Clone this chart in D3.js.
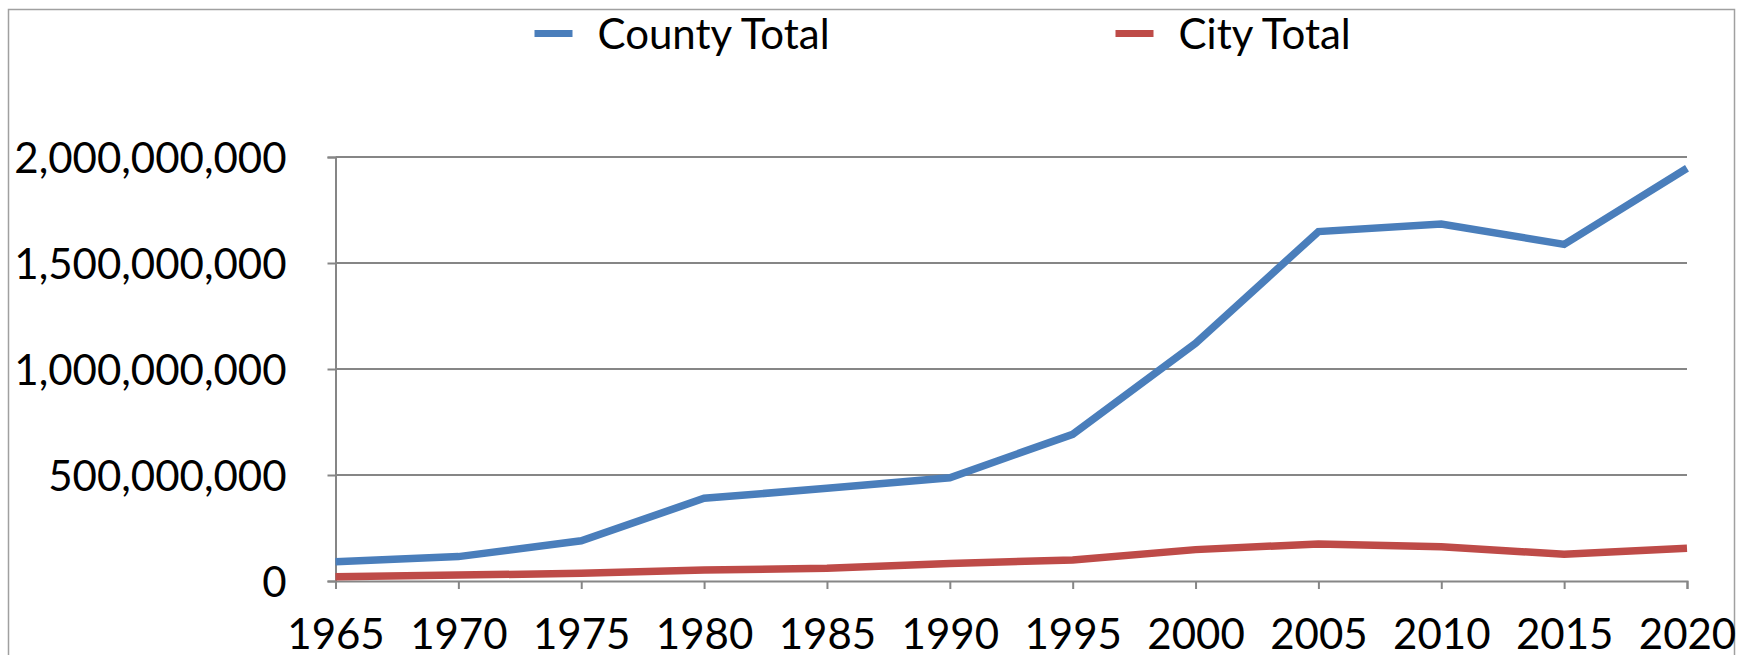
<!DOCTYPE html>
<html>
<head>
<meta charset="utf-8">
<script src="https://cdn.jsdelivr.net/npm/d3@7"></script>
<style>
  html, body { margin: 0; padding: 0; background: #fff; }
  svg { display: block; }
  text { font-family: Lato, "Open Sans", sans-serif; fill: #000; }
</style>
</head>
<body>
<div class="chartContainer"></div>
<script>

// data
var years = [1965, 1970, 1975, 1980, 1985, 1990, 1995, 2000, 2005, 2010, 2015, 2020];
var countyTotal = [91e6, 115e6, 190e6, 390e6, 437e6, 487e6, 692e6, 1121e6, 1648e6, 1684e6, 1588e6, 1947e6];
var cityTotal = [20e6, 28e6, 36e6, 52e6, 60e6, 83e6, 99e6, 148e6, 175e6, 162e6, 126e6, 154e6];
var yTicks = [0, 500e6, 1000e6, 1500e6, 2000e6];
var seriesNames = ["County Total", "City Total"];
var seriesColors = ["#4a7ebb", "#be4b48"];

var width = 1739,
    height = 655;

var svg = d3.select(".chartContainer")
            .append("svg")
            .attr("width", width)
            .attr("height", height);

// outer frame (bottom edge is off the picture)
svg.append("rect")
   .attr("x", 8.5)
   .attr("y", 9.5)
   .attr("width", 1726)
   .attr("height", 700)
   .attr("fill", "none")
   .attr("stroke", "#a0a0a0")
   .attr("stroke-width", 1.5);

var x = d3.scalePoint()
          .domain(years)
          .range([335.5, 1687]);

var y = d3.scaleLinear()
          .domain([0, 2e9])
          .range([581, 157]);

var axisColor = "#868686";

// horizontal gridlines
svg.append("g")
   .selectAll("line")
   .data(yTicks.slice(1))
   .enter()
   .append("line")
   .attr("x1", x(years[0]))
   .attr("x2", x(years[years.length - 1]))
   .attr("y1", function (d) { return y(d); })
   .attr("y2", function (d) { return y(d); })
   .attr("stroke", axisColor)
   .attr("stroke-width", 2);

// y axis
var yAxis = svg.append("g")
   .attr("transform", "translate(" + x(years[0]) + ",0)")
   .call(d3.axisLeft(y)
           .tickValues(yTicks)
           .tickSize(8)
           .tickPadding(41)
           .tickFormat(d3.format(",")));

// x axis
var xAxis = svg.append("g")
   .attr("transform", "translate(0," + y(0) + ")")
   .call(d3.axisBottom(x)
           .tickSize(8)
           .tickPadding(30));

[yAxis, xAxis].forEach(function (ax) {
  ax.select(".domain").attr("stroke", axisColor).attr("stroke-width", 2);
  ax.selectAll(".tick line").attr("stroke", axisColor).attr("stroke-width", 2);
  ax.selectAll(".tick text")
    .attr("fill", "#000")
    .style("font-size", "42px")
    .style("font-family", "Lato, 'Open Sans', sans-serif");
});
yAxis.selectAll(".tick text").attr("dy", "0.36em");
xAxis.selectAll(".tick text").attr("dy", "0.72em");

// lines
var line = d3.line()
             .x(function (d, i) { return x(years[i]); })
             .y(function (d) { return y(d); });

[countyTotal, cityTotal].forEach(function (series, i) {
  svg.append("path")
     .datum(series)
     .attr("fill", "none")
     .attr("stroke", seriesColors[i])
     .attr("stroke-width", 7.5)
     .attr("stroke-linejoin", "miter")
     .attr("d", line);
});

// legend
var legendX = [534.5, 1115.5];
var legend = svg.append("g")
   .selectAll("g")
   .data(seriesNames)
   .enter()
   .append("g")
   .attr("transform", function (d, i) { return "translate(" + legendX[i] + ",33.5)"; });

legend.append("line")
   .attr("x1", 0)
   .attr("x2", 38)
   .attr("stroke", function (d, i) { return seriesColors[i]; })
   .attr("stroke-width", 7);

legend.append("text")
   .attr("x", 63)
   .attr("y", 15)
   .style("font-size", "42px")
   .text(function (d) { return d; });

</script>
</body>
</html>
